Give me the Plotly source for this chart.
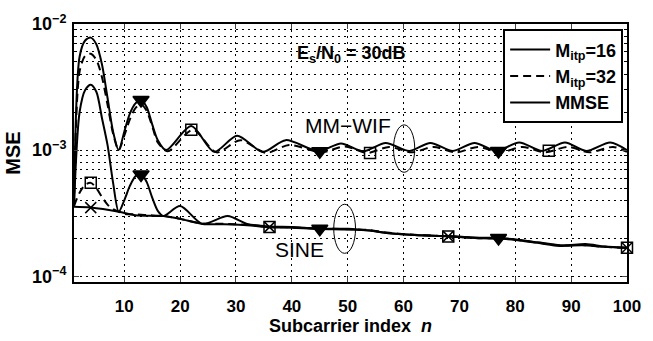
import math
import plotly.graph_objects as go

# ---------------- data ----------------
# MM-WIF, M_itp = 16 (solid)
wif16_n = [1, 2, 3, 4, 5, 6, 7, 8, 9, 10, 11, 12, 13, 14, 15, 16, 17.5, 22, 26.1, 30.2, 34.8,
           38.9, 44.8, 48.8, 52.8, 56.8, 61, 64.8, 68.8, 72.7, 76.7, 80.7, 84.8, 88.9, 92.7, 97, 100]
wif16_v = [3.6e-4, 5.5e-3, 7.4e-3, 7.8e-3, 6.9e-3, 4.8e-3, 2.6e-3, 1.4e-3, 1.0e-3, 1.4e-3, 1.95e-3,
           2.35e-3, 2.5e-3, 2.2e-3, 1.6e-3, 1.2e-3, 1.0e-3, 1.55e-3, 0.97e-3, 1.30e-3, 0.97e-3,
           1.2e-3, 0.98e-3, 1.13e-3, 0.98e-3, 1.14e-3, 0.985e-3, 1.14e-3, 0.985e-3, 1.14e-3,
           0.985e-3, 1.15e-3, 0.985e-3, 1.15e-3, 0.985e-3, 1.15e-3, 1.0e-3]

# MM-WIF, M_itp = 32 (dashed)
wif32_n = [1, 2, 3, 4, 5, 6, 7, 8, 9, 10, 11, 12, 13, 14, 15, 16, 17.8, 22.3, 26.5, 30.8, 35.4,
           39.5, 45.3, 49.5, 53.5, 57.4, 61.5, 65.4, 69.4, 73.3, 77.3, 81.3, 85.3, 89.4, 93.3, 97.5, 100]
wif32_v = [3.6e-4, 4.2e-3, 5.6e-3, 5.8e-3, 5.2e-3, 3.8e-3, 2.3e-3, 1.35e-3, 1.0e-3, 1.3e-3, 1.75e-3,
           2.15e-3, 2.3e-3, 2.05e-3, 1.55e-3, 1.15e-3, 0.98e-3, 1.45e-3, 0.96e-3, 1.2e-3, 0.95e-3,
           1.1e-3, 0.96e-3, 1.07e-3, 0.95e-3, 1.06e-3, 0.96e-3, 1.06e-3, 0.96e-3, 1.06e-3,
           0.96e-3, 1.06e-3, 0.96e-3, 1.06e-3, 0.96e-3, 1.06e-3, 0.97e-3]

# SINE, M_itp = 16 (solid)
sine16_n = [1, 2, 3, 4, 5, 6, 7, 8, 9, 10, 11, 12, 13, 14, 15, 16, 17, 20, 24, 28.5, 32, 36, 40,
            45, 50, 54, 57, 62, 68, 74, 77, 80, 84, 88.5, 92.6, 96, 100]
sine16_v = [3.6e-4, 2.0e-3, 3.0e-3, 3.3e-3, 2.9e-3, 1.8e-3, 1.1e-3, 5.5e-4, 3.25e-4, 4.0e-4, 5.2e-4,
            6.2e-4, 6.5e-4, 5.6e-4, 4.2e-4, 3.3e-4, 3.0e-4, 3.6e-4, 2.6e-4, 3.0e-4, 2.6e-4, 2.48e-4,
            2.46e-4, 2.38e-4, 2.38e-4, 2.3e-4, 2.2e-4, 2.12e-4, 2.08e-4, 2.02e-4, 2.01e-4, 1.96e-4,
            1.86e-4, 1.76e-4, 1.80e-4, 1.72e-4, 1.68e-4]

# SINE, M_itp = 32 (dashed)
sine32_n = [1, 2, 3, 4, 5, 6, 7, 8, 9, 10, 12, 14, 17, 20, 24, 28, 32, 36, 40, 45, 50, 54, 57, 62,
            68, 74, 77, 80, 84, 88, 92, 96, 100]
sine32_v = [3.6e-4, 4.6e-4, 5.3e-4, 5.5e-4, 5.0e-4, 4.25e-4, 3.7e-4, 3.4e-4, 3.25e-4, 3.12e-4,
            3.1e-4, 3.05e-4, 3.0e-4, 2.85e-4, 2.62e-4, 2.6e-4, 2.56e-4, 2.46e-4, 2.44e-4, 2.39e-4,
            2.36e-4, 2.32e-4, 2.22e-4, 2.13e-4, 2.07e-4, 2.0e-4, 2.0e-4, 1.95e-4, 1.85e-4, 1.75e-4,
            1.77e-4, 1.71e-4, 1.68e-4]

# MMSE (solid)
mmse_n = [1, 4, 9, 12, 17, 20, 24, 28, 32, 36, 40, 45, 50, 54, 57, 62, 68, 74, 77, 80, 84, 88, 92, 96, 100]
mmse_v = [3.55e-4, 3.5e-4, 3.25e-4, 3.05e-4, 3.0e-4, 2.85e-4, 2.6e-4, 2.58e-4, 2.54e-4, 2.45e-4,
          2.42e-4, 2.37e-4, 2.35e-4, 2.3e-4, 2.2e-4, 2.12e-4, 2.07e-4, 2.0e-4, 1.99e-4, 1.94e-4,
          1.84e-4, 1.74e-4, 1.76e-4, 1.71e-4, 1.68e-4]

# marker positions
tri_n = [13, 45, 77]
tri_wif16 = [2.5e-3, 0.98e-3, 0.985e-3]
tri_sine16 = [6.4e-4, 2.38e-4, 2.01e-4]
sq_wif32_n = [22, 54, 86]
sq_wif32 = [1.45e-3, 0.95e-3, 0.99e-3]
sq_sine32_n = [4, 36, 68, 100]
sq_sine32 = [5.5e-4, 2.46e-4, 2.07e-4, 1.68e-4]
x_mmse_n = [4, 36, 68, 100]
x_mmse = [3.5e-4, 2.45e-4, 2.07e-4, 1.68e-4]

x_ticks = [10, 20, 30, 40, 50, 60, 70, 80, 90, 100]
y_ticks = [1e-4, 1e-3, 1e-2]
y_ticktext = ["10<sup>\u22124</sup>", "10<sup>\u22123</sup>", "10<sup>\u22122</sup>"]
legend_names = ["M<sub>itp</sub>=16", "M<sub>itp</sub>=32", "MMSE"]

FONT = "Liberation Sans, Arial, Helvetica, sans-serif"
LW = 2

fig = go.Figure()

def line(xs, ys, dash, name=None, show=False):
    fig.add_trace(go.Scatter(
        x=xs, y=ys, mode="lines", name=name, showlegend=show,
        line=dict(color="black", width=LW, dash=dash, shape="spline", smoothing=0.8)))

line(wif16_n, wif16_v, "solid", legend_names[0], True)
line(wif32_n, wif32_v, "8px,5px", legend_names[1], True)
line(mmse_n, mmse_v, "solid", legend_names[2], True)
line(sine16_n, sine16_v, "solid")
line(sine32_n, sine32_v, "8px,5px")

def markers(xs, ys, symbol, size):
    fig.add_trace(go.Scatter(
        x=xs, y=ys, mode="markers", showlegend=False, cliponaxis=False,
        marker=dict(symbol=symbol, size=size, color="black",
                    line=dict(color="black", width=1.5))))

markers(tri_n, tri_wif16, "triangle-down", 14)
markers(tri_n, tri_sine16, "triangle-down", 14)
markers(sq_wif32_n, sq_wif32, "square-open", 11)
markers(sq_sine32_n, sq_sine32, "square-open", 11)
markers(x_mmse_n, x_mmse, "x-thin-open", 11)

# ellipses (circle shapes in data coordinates)
fig.add_shape(type="circle", xref="x", yref="y", x0=58.2, x1=62.0, y0=6.67e-4, y1=1.585e-3,
              line=dict(color="black", width=1))
fig.add_shape(type="circle", xref="x", yref="y", x0=47.5, x1=51.4, y0=1.52e-4, y1=3.72e-4,
              line=dict(color="black", width=1))

fig.add_annotation(x=50.0, y=math.log10(1.56e-3), xref="x", yref="y", text="MM\u2212WIF",
                   showarrow=False, font=dict(family=FONT, size=21, color="black"))
fig.add_annotation(x=41.4, y=math.log10(1.64e-4), xref="x", yref="y", text="SINE",
                   showarrow=False, font=dict(family=FONT, size=21, color="black"))
fig.add_annotation(x=50.6, y=0.935, xref="x", yref="paper",
                   text="<b>E<sub>s</sub>/N<sub>0</sub> = 30dB</b>",
                   showarrow=False, font=dict(family=FONT, size=18, color="black"))

grid_dash = "1.5px,4.5px"
fig.update_xaxes(
    range=[1, 100], tickvals=x_ticks, ticks="inside", ticklen=5, tickwidth=1,
    showline=True, linecolor="black", linewidth=2, mirror="allticks",
    showgrid=True, gridcolor="black", gridwidth=1, griddash=grid_dash,
    tickfont=dict(family=FONT, size=17, color="black", weight="bold"),
    ticklabelstandoff=8,
    title=dict(text="<b>Subcarrier index  <i>n</i></b>", standoff=0,
               font=dict(family=FONT, size=18, color="black")),
    zeroline=False)
fig.update_yaxes(
    type="log", range=[math.log10(9e-5), -2], tickvals=y_ticks, ticktext=y_ticktext,
    ticks="inside", ticklen=5, tickwidth=1,
    showline=True, linecolor="black", linewidth=2, mirror="allticks",
    showgrid=True, gridcolor="black", gridwidth=1, griddash=grid_dash,
    minor=dict(dtick="D1", ticks="inside", ticklen=3, tickcolor="black", showgrid=True,
               gridcolor="black", gridwidth=1, griddash=grid_dash),
    tickfont=dict(family=FONT, size=18, color="black", weight="bold"),
    ticklabelstandoff=2,
    title=dict(text="<b>MSE</b>", standoff=6, font=dict(family=FONT, size=20, color="black")),
    zeroline=False)

fig.update_layout(
    width=653, height=341,
    margin=dict(l=69, r=16, t=13, b=47),
    paper_bgcolor="white", plot_bgcolor="white",
    font=dict(family=FONT, color="black"),
    showlegend=True,
    legend=dict(x=0.993, y=0.979, xanchor="right", yanchor="top",
                bgcolor="white", bordercolor="black", borderwidth=2,
                font=dict(family=FONT, size=18, color="black", weight="bold"),
                tracegroupgap=0, itemwidth=40),
)

fig.write_html("out.html")
